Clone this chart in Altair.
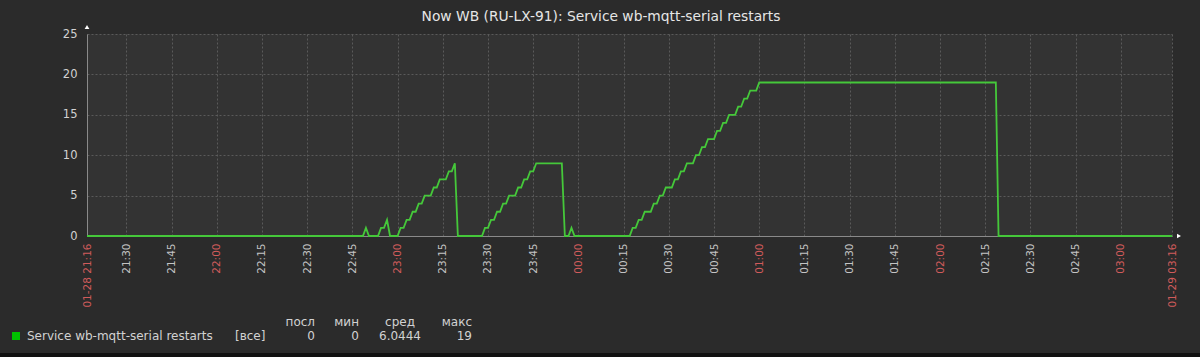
import altair as alt
import pandas as pd

TITLE = "Now WB (RU-LX-91): Service wb-mqtt-serial restarts"

# minutes since 01-28 21:00
minutes = [
    16.95, 108.5, 109.5, 110.5, 113.5, 114.5, 115.5, 116.5, 117.5,
    120, 121, 122, 123, 124, 125, 126, 127, 128, 129, 130, 131, 132, 133,
    134, 135, 136, 137, 138, 139, 140,
    148, 149, 150, 151, 152, 153, 154, 155, 156, 157, 158, 159, 160, 161,
    162, 163, 164, 165, 166, 174.5, 175.5, 176.7, 177.7, 178.7,
    197, 198, 199, 200, 201, 202, 203, 204, 205, 206, 207, 208, 209, 210,
    211, 212, 213, 214, 215, 216, 217, 218, 219, 220, 221, 222, 223, 224,
    225, 226, 227, 228, 229, 230, 231, 232, 233, 234, 235, 236, 237, 238,
    239, 240, 318.5, 319.4, 376.95,
]
values = [
    0, 0, 1, 0, 0, 1, 1, 2, 0,
    0, 1, 1, 2, 2, 3, 3, 4, 4, 5, 5, 5, 6, 6,
    7, 7, 7, 8, 8, 9, 0,
    0, 1, 1, 2, 2, 3, 3, 4, 4, 5, 5, 5, 6, 6,
    7, 7, 8, 8, 9, 9, 0, 0, 1, 0,
    0, 1, 1, 2, 2, 3, 3, 3, 4, 4, 5, 5, 6, 6,
    6, 7, 7, 8, 8, 9, 9, 9, 10, 10, 11, 11, 12, 12,
    12, 13, 13, 14, 14, 15, 15, 15, 16, 16, 17, 17, 18, 18,
    18, 19, 19, 0, 0,
]

tick_minutes = [16.95, 30, 45, 60, 75, 90, 105, 120, 135, 150, 165, 180, 195,
                210, 225, 240, 255, 270, 285, 300, 315, 330, 345, 360, 376.95]
tick_labels = ["01-28 21:16", "21:30", "21:45", "22:00", "22:15", "22:30",
               "22:45", "23:00", "23:15", "23:30", "23:45", "00:00", "00:15",
               "00:30", "00:45", "01:00", "01:15", "01:30", "01:45", "02:00",
               "02:15", "02:30", "02:45", "03:00", "01-29 03:16"]
red_ticks = [16.95, 60, 120, 180, 240, 300, 360, 376.95]
y_ticks = [0, 5, 10, 15, 20, 25]

legend_name = "Service wb-mqtt-serial restarts"
legend_scope = "[все]"
stat_headers = ["посл", "мин", "сред", "макс"]
stat_values = ["0", "0", "6.0444", "19"]

W, H = 1085, 202
PAD_L, PAD_T = 87, 34
FONT = "DejaVu Sans"
TXT = "#d2d2d2"

df = pd.DataFrame({"t": minutes, "v": values})

def js_list(items, quote=False):
    if quote:
        return "[" + ",".join("'" + s + "'" for s in items) + "]"
    return "[" + ",".join(str(x) for x in items) + "]"

label_expr = f"{js_list(tick_labels, True)}[indexof({js_list(tick_minutes)}, datum.value)]"
red_test = f"indexof({js_list(red_ticks)}, datum.value) >= 0"

line = alt.Chart(df).mark_line(color="#45c83a", strokeWidth=1.8).encode(
    x=alt.X("t:Q",
            scale=alt.Scale(domain=[16.95, 376.95], nice=False, zero=False),
            axis=alt.Axis(values=tick_minutes, labelExpr=label_expr, title=None,
                          labelAngle=-90, labelOverlap=False, labelBound=False,
                          labelFlush=False, labelPadding=7, ticks=False,
                          labelFont=FONT, labelFontSize=10.5,
                          labelColor={"condition": {"test": red_test, "value": "#d05b5b"},
                                      "value": "#c4c4c4"},
                          grid=True, gridColor="#5a5a5a", gridDash=[2, 2],
                          domainColor="#8a8a8a")),
    y=alt.Y("v:Q",
            scale=alt.Scale(domain=[0, 25], nice=False),
            axis=alt.Axis(values=y_ticks, title=None, ticks=False,
                          labelPadding=10, labelFont=FONT, labelFontSize=11.5,
                          labelColor=TXT, grid=True, gridColor="#5a5a5a",
                          gridDash=[2, 2], domainColor="#8a8a8a")),
)

one = pd.DataFrame({"k": [0]})

def text_layer(s, x, y, align="left", size=12, color=TXT):
    return alt.Chart(pd.DataFrame({"s": [s]})).mark_text(
        align=align, baseline="middle", font=FONT, fontSize=size, color=color
    ).encode(text="s:N", x=alt.value(x), y=alt.value(y))

layers = [line]
layers.append(text_layer(TITLE, 601 - PAD_L, 17 - PAD_T, align="center", size=13.8, color="#e6e6e6"))

# legend
layers.append(alt.Chart(one).mark_square(size=64, color="#00c000", opacity=1).encode(
    x=alt.value(16 - PAD_L), y=alt.value(336 - PAD_T)))
layers.append(text_layer(legend_name, 27 - PAD_L, 336 - PAD_T))
layers.append(text_layer(legend_scope, 235 - PAD_L, 336 - PAD_T))
header_right = [315, 359, 415, 472]
value_right = [315, 359, 421, 472]
for h, v, hx, vx in zip(stat_headers, stat_values, header_right, value_right):
    layers.append(text_layer(h, hx - PAD_L, 322 - PAD_T, align="right"))
    layers.append(text_layer(v, vx - PAD_L, 336 - PAD_T, align="right"))

# axis arrows
layers.append(alt.Chart(one).mark_point(shape="triangle-up", filled=True, size=22,
                                        color="#ffffff", opacity=1).encode(
    x=alt.value(0), y=alt.value(-7)))
layers.append(alt.Chart(one).mark_point(shape="triangle-right", filled=True, size=22,
                                        color="#ffffff", opacity=1).encode(
    x=alt.value(W + 7), y=alt.value(H)))

# dark bottom border
layers.append(alt.Chart(one).mark_rect(color="#111111").encode(
    x=alt.value(-PAD_L), x2=alt.value(1200 - PAD_L),
    y=alt.value(353 - PAD_T), y2=alt.value(357 - PAD_T)))

chart = alt.layer(*layers).properties(
    width=W, height=H,
    autosize=alt.AutoSizeParams(type="none"),
    padding={"left": PAD_L, "top": PAD_T, "right": 1200 - PAD_L - W, "bottom": 357 - PAD_T - H},
    background="#2b2b2b",
).configure_view(fill="#333333", strokeWidth=0)

chart.save("out.html", embed_options={"renderer": "svg", "actions": False})
